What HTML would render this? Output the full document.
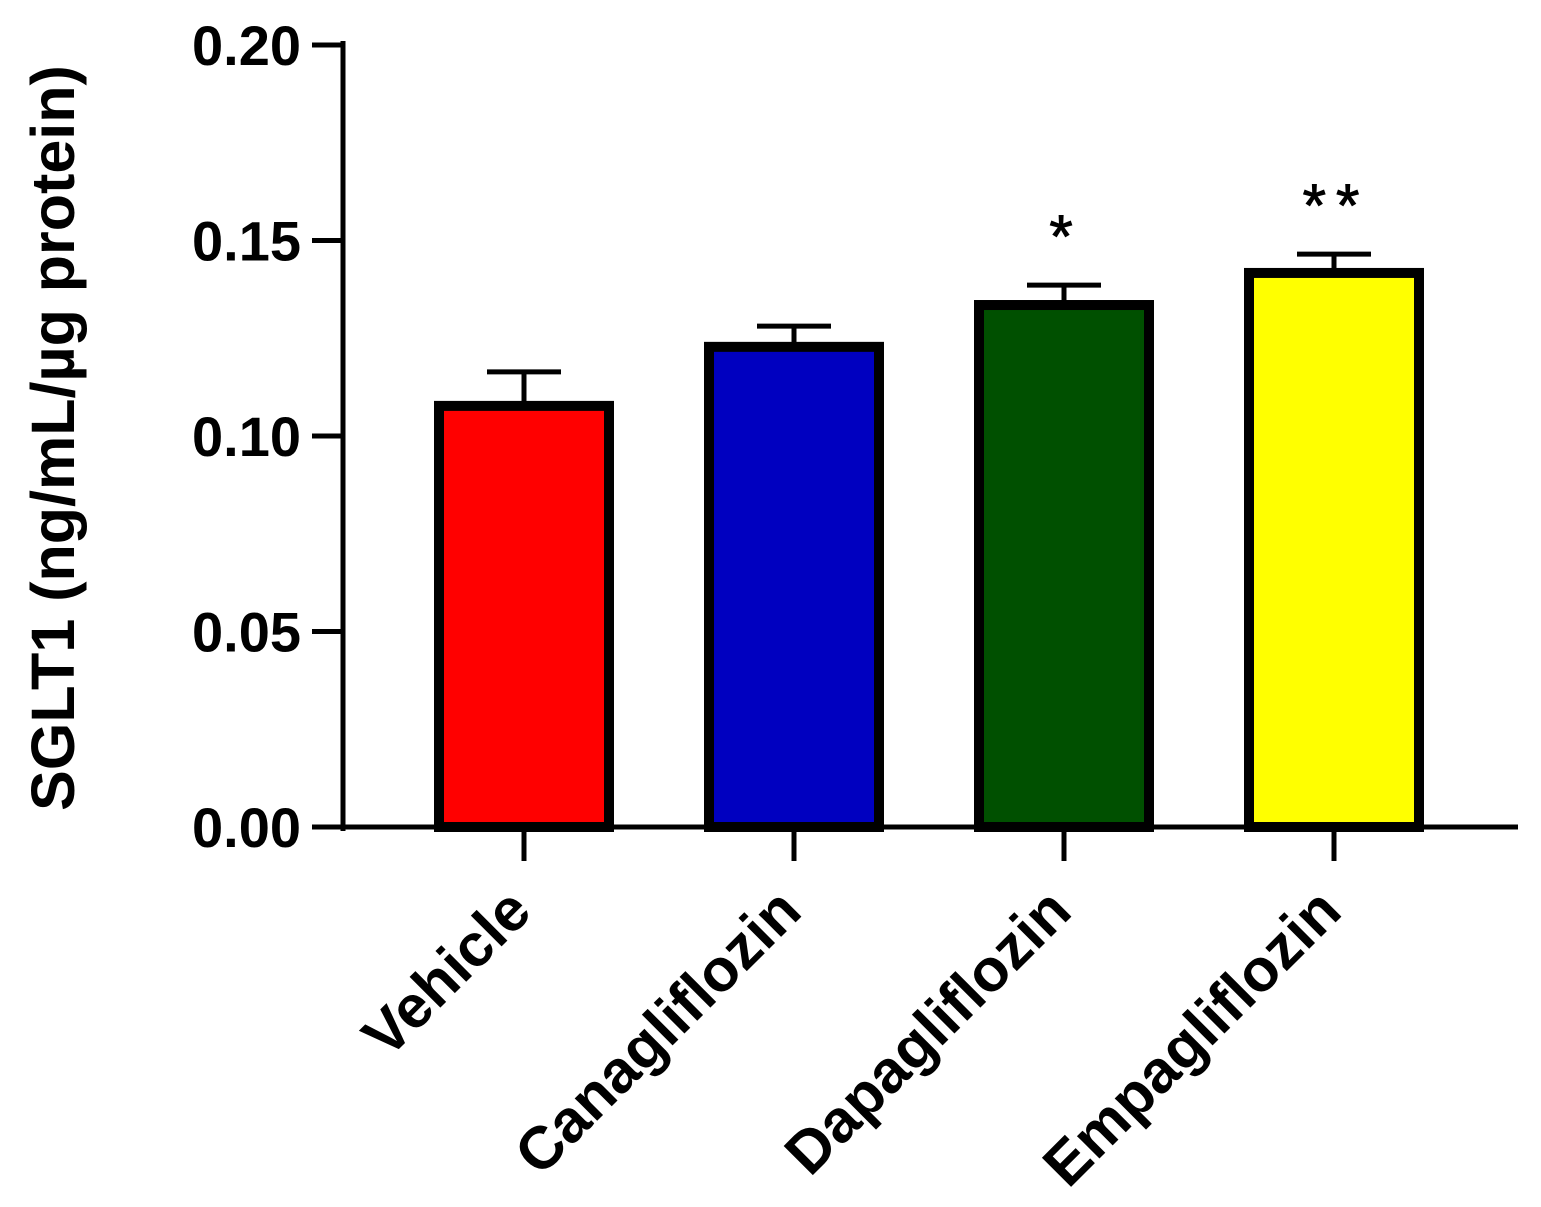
<!DOCTYPE html>
<html><head><meta charset="utf-8"><style>
html,body{margin:0;padding:0;background:#fff;}
svg{display:block;font-family:"Liberation Sans",Arial,sans-serif;font-weight:bold;}
</style></head><body>
<svg id="chart" width="1541" height="1207" viewBox="0 0 1541 1207"></svg>
<script>
const categories=["Vehicle","Canagliflozin","Dapagliflozin","Empagliflozin"];
const means=[0.1077,0.1228,0.1335,0.1417];
const errors=[0.0087,0.0053,0.0051,0.0048];
const colors=["#ff0000","#0000c0","#005000","#ffff00"];
const sig=["","","*","**"];
const yTicks=[0,0.05,0.10,0.15,0.20];
const yTickLabels=["0.00","0.05","0.10","0.15","0.20"];
const svg=document.getElementById('chart');
const NS="http://www.w3.org/2000/svg";
const y0=827,yTop=45,xAxis=343;
function yS(v){return y0-(v/0.20)*(y0-yTop);}
function xS(i){return 524+i*270;}
function mk(t,a,p){const e=document.createElementNS(NS,t);for(const k in a)e.setAttribute(k,a[k]);(p||svg).appendChild(e);return e;}
let ax=mk('line',{x1:xAxis,y1:yTop-4,x2:xAxis,y2:y0+4,stroke:'#000','stroke-width':5});


yTicks.forEach((v,i)=>{
  const tk=mk('line',{x1:312,y1:yS(v),x2:xAxis,y2:yS(v),stroke:'#000','stroke-width':5});
  
  
  const t=mk('text',{x:301,y:yS(v)+20,'text-anchor':'end','font-size':56});
  t.textContent=yTickLabels[i];
  
  
});
const yt=mk('text',{x:0,y:0,'text-anchor':'middle','font-size':61,transform:'translate(74,438) rotate(-90)'});
yt.textContent="SGLT1 (ng/mL/µg protein)";


categories.forEach((c,i)=>{
  const cx=xS(i),w=170,top=yS(means[i]);
  const et=yS(means[i]+errors[i]);
  const el=mk('line',{x1:cx,y1:top,x2:cx,y2:et,stroke:'#000','stroke-width':5});
  
  
  const ec=mk('line',{x1:cx-37,y1:et,x2:cx+37,y2:et,stroke:'#000','stroke-width':5});
  
  
  const r=mk('rect',{x:cx-w/2,y:top,width:w,height:y0-top,fill:colors[i],stroke:'#000','stroke-width':10});
  
  
  const tk=mk('line',{x1:cx,y1:y0,x2:cx,y2:861,stroke:'#000','stroke-width':5});
  
  
  const lb=mk('text',{x:0,y:0,'text-anchor':'end','font-size':60,transform:'translate('+(cx+10)+',914) rotate(-45)'});
  lb.textContent=c;
  
  
  if(sig[i]){
    const s=mk('text',{x:cx+2,y:et-28,'text-anchor':'middle','font-size':60,'font-weight':'normal','letter-spacing':10,stroke:'#000','stroke-width':1});
    s.textContent=sig[i];
    
    
  }
});
let xa=mk('line',{x1:xAxis-2,y1:y0,x2:1518,y2:y0,stroke:'#000','stroke-width':5});


</script>
</body></html>
